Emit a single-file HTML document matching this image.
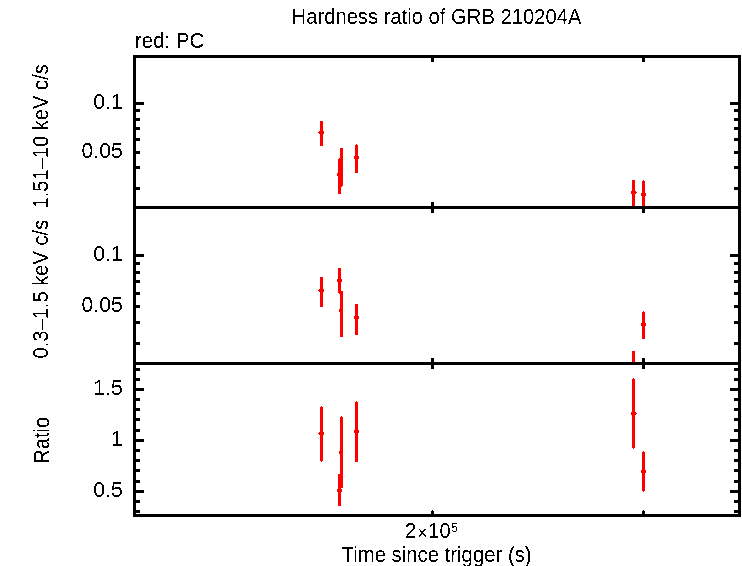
<!DOCTYPE html>
<html><head><meta charset="utf-8"><title>Hardness ratio of GRB 210204A</title>
<style>
html,body{margin:0;padding:0;background:#fff;}
svg{display:block;}
text{font-family:"Liberation Sans",sans-serif;fill:#000;}
</style></head><body>
<svg width="742" height="566" viewBox="0 0 742 566">
<rect x="0" y="0" width="742" height="566" fill="#fff"/>
<g shape-rendering="crispEdges">
<rect x="133" y="55" width="3" height="462" fill="#000"/>
<rect x="738" y="55" width="3" height="462" fill="#000"/>
<rect x="133" y="55" width="608" height="3" fill="#000"/>
<rect x="136" y="102" width="8" height="3" fill="#000"/><rect x="730" y="102" width="8" height="3" fill="#000"/>
<rect x="136" y="109" width="4" height="3" fill="#000"/><rect x="734" y="109" width="4" height="3" fill="#000"/>
<rect x="136" y="118" width="4" height="3" fill="#000"/><rect x="734" y="118" width="4" height="3" fill="#000"/>
<rect x="136" y="127" width="4" height="3" fill="#000"/><rect x="734" y="127" width="4" height="3" fill="#000"/>
<rect x="136" y="138" width="4" height="3" fill="#000"/><rect x="734" y="138" width="4" height="3" fill="#000"/>
<rect x="136" y="151" width="4" height="3" fill="#000"/><rect x="734" y="151" width="4" height="3" fill="#000"/>
<rect x="136" y="166" width="4" height="3" fill="#000"/><rect x="734" y="166" width="4" height="3" fill="#000"/>
<rect x="136" y="187" width="4" height="3" fill="#000"/><rect x="734" y="187" width="4" height="3" fill="#000"/>
<rect x="431" y="58" width="3" height="4" fill="#000"/>
<rect x="431" y="202" width="3" height="4" fill="#000"/>
<rect x="642" y="58" width="3" height="4" fill="#000"/>
<rect x="642" y="202" width="3" height="4" fill="#000"/>
<rect x="320" y="121" width="3" height="25" fill="#ff0000"/><rect x="318" y="132" width="1" height="1" fill="#ff0000"/><rect x="319" y="131" width="5" height="3" fill="#ff0000"/>
<rect x="340" y="148" width="3" height="38" fill="#ff0000"/><rect x="341" y="186" width="1" height="1" fill="#ff0000"/><rect x="339" y="158" width="2" height="1" fill="#ff0000"/>
<rect x="338" y="159" width="3" height="35" fill="#ff0000"/><rect x="337" y="173" width="5" height="3" fill="#ff0000"/>
<rect x="356" y="144" width="1" height="1" fill="#ff0000"/><rect x="355" y="145" width="3" height="28" fill="#ff0000"/><rect x="354" y="156" width="5" height="3" fill="#ff0000"/>
<rect x="632" y="180" width="3" height="26" fill="#ff0000"/><rect x="636" y="192" width="1" height="1" fill="#ff0000"/><rect x="631" y="191" width="5" height="3" fill="#ff0000"/>
<rect x="643" y="180" width="1" height="1" fill="#ff0000"/><rect x="642" y="181" width="3" height="25" fill="#ff0000"/><rect x="641" y="193" width="5" height="3" fill="#ff0000"/>
<rect x="133" y="206" width="608" height="3" fill="#000"/>
<rect x="136" y="254" width="8" height="3" fill="#000"/><rect x="730" y="254" width="8" height="3" fill="#000"/>
<rect x="136" y="262" width="4" height="3" fill="#000"/><rect x="734" y="262" width="4" height="3" fill="#000"/>
<rect x="136" y="271" width="4" height="3" fill="#000"/><rect x="734" y="271" width="4" height="3" fill="#000"/>
<rect x="136" y="280" width="4" height="3" fill="#000"/><rect x="734" y="280" width="4" height="3" fill="#000"/>
<rect x="136" y="292" width="4" height="3" fill="#000"/><rect x="734" y="292" width="4" height="3" fill="#000"/>
<rect x="136" y="305" width="4" height="3" fill="#000"/><rect x="734" y="305" width="4" height="3" fill="#000"/>
<rect x="136" y="321" width="4" height="3" fill="#000"/><rect x="734" y="321" width="4" height="3" fill="#000"/>
<rect x="136" y="342" width="4" height="3" fill="#000"/><rect x="734" y="342" width="4" height="3" fill="#000"/>
<rect x="431" y="209" width="3" height="4" fill="#000"/>
<rect x="431" y="358" width="3" height="4" fill="#000"/>
<rect x="642" y="209" width="3" height="4" fill="#000"/>
<rect x="642" y="358" width="3" height="4" fill="#000"/>
<rect x="320" y="277" width="3" height="30" fill="#ff0000"/><rect x="318" y="290" width="1" height="1" fill="#ff0000"/><rect x="319" y="289" width="5" height="3" fill="#ff0000"/>
<rect x="338" y="268" width="3" height="25" fill="#ff0000"/><rect x="337" y="279" width="5" height="3" fill="#ff0000"/><rect x="339" y="293" width="2" height="1" fill="#ff0000"/>
<rect x="340" y="291" width="3" height="46" fill="#ff0000"/><rect x="339" y="309" width="4" height="3" fill="#ff0000"/>
<rect x="355" y="304" width="3" height="31" fill="#ff0000"/><rect x="354" y="316" width="5" height="3" fill="#ff0000"/>
<rect x="632" y="351" width="3" height="11" fill="#ff0000"/>
<rect x="643" y="311" width="1" height="1" fill="#ff0000"/><rect x="642" y="312" width="3" height="27" fill="#ff0000"/><rect x="641" y="323" width="5" height="3" fill="#ff0000"/>
<rect x="133" y="362" width="608" height="3" fill="#000"/>
<rect x="133" y="514" width="608" height="3" fill="#000"/>
<rect x="136" y="368" width="4" height="3" fill="#000"/><rect x="734" y="368" width="4" height="3" fill="#000"/>
<rect x="136" y="378" width="4" height="3" fill="#000"/><rect x="734" y="378" width="4" height="3" fill="#000"/>
<rect x="136" y="388" width="8" height="3" fill="#000"/><rect x="730" y="388" width="8" height="3" fill="#000"/>
<rect x="136" y="398" width="4" height="3" fill="#000"/><rect x="734" y="398" width="4" height="3" fill="#000"/>
<rect x="136" y="408" width="4" height="3" fill="#000"/><rect x="734" y="408" width="4" height="3" fill="#000"/>
<rect x="136" y="418" width="4" height="3" fill="#000"/><rect x="734" y="418" width="4" height="3" fill="#000"/>
<rect x="136" y="429" width="4" height="3" fill="#000"/><rect x="734" y="429" width="4" height="3" fill="#000"/>
<rect x="136" y="439" width="8" height="3" fill="#000"/><rect x="730" y="439" width="8" height="3" fill="#000"/>
<rect x="136" y="449" width="4" height="3" fill="#000"/><rect x="734" y="449" width="4" height="3" fill="#000"/>
<rect x="136" y="459" width="4" height="3" fill="#000"/><rect x="734" y="459" width="4" height="3" fill="#000"/>
<rect x="136" y="469" width="4" height="3" fill="#000"/><rect x="734" y="469" width="4" height="3" fill="#000"/>
<rect x="136" y="480" width="4" height="3" fill="#000"/><rect x="734" y="480" width="4" height="3" fill="#000"/>
<rect x="136" y="490" width="8" height="3" fill="#000"/><rect x="730" y="490" width="8" height="3" fill="#000"/>
<rect x="136" y="500" width="4" height="3" fill="#000"/><rect x="734" y="500" width="4" height="3" fill="#000"/>
<rect x="136" y="510" width="4" height="3" fill="#000"/><rect x="734" y="510" width="4" height="3" fill="#000"/>
<rect x="431" y="365" width="3" height="4" fill="#000"/>
<rect x="431" y="511" width="3" height="3" fill="#000"/><rect x="432" y="510" width="1" height="1" fill="#000"/>
<rect x="642" y="365" width="3" height="4" fill="#000"/>
<rect x="642" y="511" width="3" height="3" fill="#000"/><rect x="643" y="510" width="1" height="1" fill="#000"/>
<rect x="321" y="406" width="1" height="1" fill="#ff0000"/><rect x="321" y="461" width="1" height="1" fill="#ff0000"/><rect x="320" y="407" width="3" height="54" fill="#ff0000"/><rect x="318" y="433" width="1" height="1" fill="#ff0000"/><rect x="319" y="432" width="5" height="3" fill="#ff0000"/>
<rect x="341" y="416" width="1" height="1" fill="#ff0000"/><rect x="340" y="417" width="3" height="71" fill="#ff0000"/><rect x="339" y="451" width="4" height="3" fill="#ff0000"/>
<rect x="338" y="474" width="3" height="32" fill="#ff0000"/><rect x="337" y="489" width="5" height="3" fill="#ff0000"/>
<rect x="356" y="401" width="1" height="1" fill="#ff0000"/><rect x="355" y="402" width="3" height="60" fill="#ff0000"/><rect x="354" y="430" width="5" height="3" fill="#ff0000"/>
<rect x="633" y="378" width="1" height="1" fill="#ff0000"/><rect x="633" y="448" width="1" height="1" fill="#ff0000"/><rect x="632" y="379" width="3" height="69" fill="#ff0000"/><rect x="636" y="413" width="1" height="1" fill="#ff0000"/><rect x="631" y="412" width="5" height="3" fill="#ff0000"/>
<rect x="643" y="451" width="1" height="1" fill="#ff0000"/><rect x="643" y="491" width="1" height="1" fill="#ff0000"/><rect x="642" y="452" width="3" height="39" fill="#ff0000"/><rect x="641" y="470" width="5" height="3" fill="#ff0000"/>
</g>
<defs><filter id="crisp" x="0" y="0" width="742" height="566" filterUnits="userSpaceOnUse" color-interpolation-filters="sRGB"><feComponentTransfer><feFuncA type="discrete" tableValues="0 1"/></feComponentTransfer></filter></defs>
<g filter="url(#crisp)">
<text x="291.6" y="24" text-anchor="start" font-size="21.8" textLength="289.8" lengthAdjust="spacingAndGlyphs">Hardness ratio of GRB 210204A</text>
<text x="135" y="48" text-anchor="start" font-size="21.8" textLength="69.3" lengthAdjust="spacingAndGlyphs">red: PC</text>
<text x="341.6" y="562" text-anchor="start" font-size="21.8" textLength="190" lengthAdjust="spacingAndGlyphs">Time since trigger (s)</text>
<g transform="translate(0,537.6) scale(1,1.075) translate(0,-537.6)"><text x="405" y="537.6" font-size="20">2<tspan font-size="16.5" dx="1.5" dy="1.1">×</tspan><tspan dy="-1.1" dx="0.9" letter-spacing="0.3">10</tspan><tspan font-size="11.5" dx="0.5" dy="-5.6">5</tspan></text></g>
<text x="122.9" y="109.3" text-anchor="end" font-size="21.3" >0.1</text>
<text x="122.9" y="158.3" text-anchor="end" font-size="21.3" >0.05</text>
<text x="122.9" y="261.3" text-anchor="end" font-size="21.3" >0.1</text>
<text x="122.9" y="312.3" text-anchor="end" font-size="21.3" >0.05</text>
<text x="122.9" y="395.3" text-anchor="end" font-size="21.3" >1.5</text>
<text x="122.9" y="446.3" text-anchor="end" font-size="21.3" >1</text>
<text x="122.9" y="497.3" text-anchor="end" font-size="21.3" >0.5</text>
<text transform="translate(47.8,358.5) rotate(-90)" font-size="21.8" textLength="294.3" lengthAdjust="spacingAndGlyphs" xml:space="preserve">0.3–1.5 keV c/s  1.51–10 keV c/s</text>
<text transform="translate(49,463.8) rotate(-90)" font-size="21.8" textLength="46.9" lengthAdjust="spacingAndGlyphs">Ratio</text>
</g>
</svg>
</body></html>
